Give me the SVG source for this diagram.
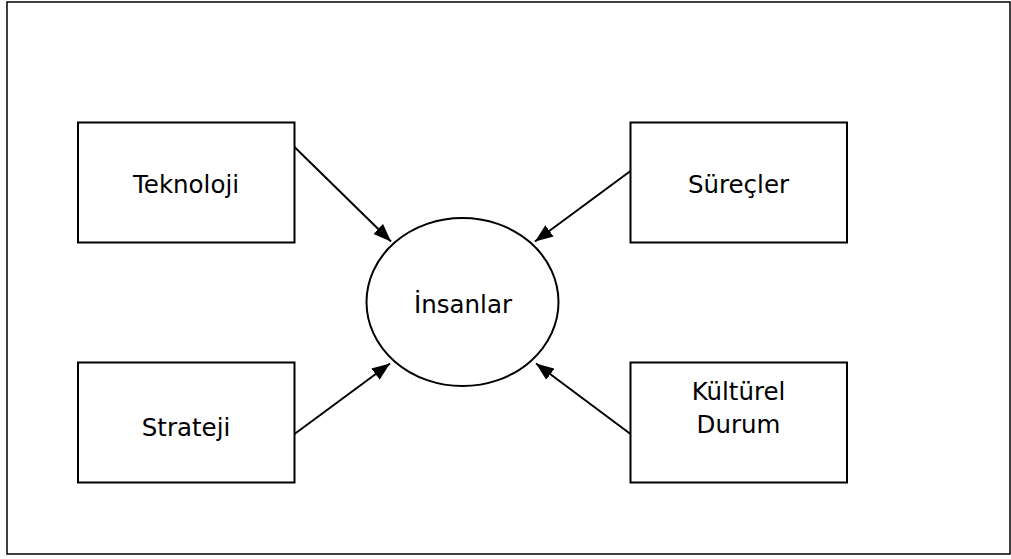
<svg xmlns="http://www.w3.org/2000/svg" width="1011" height="559" viewBox="0 0 1011 559">
  <defs>
    <style>
      .frame { fill: #ffffff; stroke: #000000; stroke-width: 1.5; }
      .box { fill: #ffffff; stroke: #000000; stroke-width: 2; }
      .lbl { font-family: "DejaVu Sans", Verdana, sans-serif; font-size: 24.5px; fill: #000000; text-anchor: middle; }
      .edge { stroke: #000000; stroke-width: 2; fill: none; marker-end: url(#arr); }
    </style>
    <marker id="arr" viewBox="0 0 18 14" refX="18" refY="7" markerWidth="18" markerHeight="14" markerUnits="userSpaceOnUse" orient="auto">
      <path d="M0,0 L18,7 L0,14 z" fill="#000000"/>
    </marker>
  </defs>
  <rect class="frame" x="7" y="2" width="1003" height="552"/>
  <g id="node-teknoloji">
    <rect class="box" x="78" y="122.5" width="216.5" height="120"/>
    <text class="lbl" x="186" y="193">Teknoloji</text>
  </g>
  <g id="node-surecler">
    <rect class="box" x="630.5" y="122.5" width="216.5" height="120"/>
    <text class="lbl" x="738.5" y="193">Süreçler</text>
  </g>
  <g id="node-strateji">
    <rect class="box" x="78" y="362.5" width="216.5" height="120"/>
    <text class="lbl" x="186" y="436">Strateji</text>
  </g>
  <g id="node-kulturel">
    <rect class="box" x="630.5" y="362.5" width="216.5" height="120"/>
    <text class="lbl" x="738.5" y="400">Kültürel</text>
    <text class="lbl" x="738.5" y="433">Durum</text>
  </g>
  <g id="node-insanlar">
    <ellipse class="box" cx="462.5" cy="302" rx="96" ry="84"/>
    <text class="lbl" x="463" y="313">İnsanlar</text>
  </g>
  <g id="connectors">
    <line class="edge" x1="294.5" y1="147" x2="391" y2="241.5"/>
    <line class="edge" x1="630.5" y1="171" x2="535" y2="241.5"/>
    <line class="edge" x1="294.5" y1="434" x2="390" y2="363.5"/>
    <line class="edge" x1="630.5" y1="434" x2="536" y2="363.5"/>
  </g>
</svg>
